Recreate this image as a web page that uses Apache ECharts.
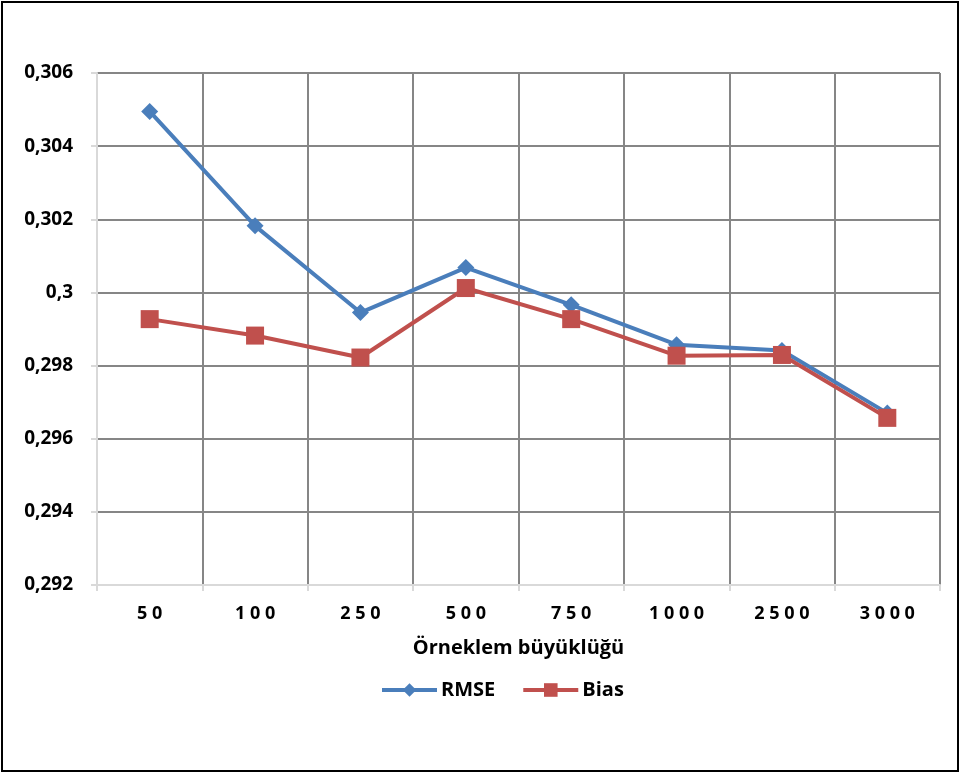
<!DOCTYPE html>
<html>
<head>
<meta charset="utf-8">
<script src="https://cdn.jsdelivr.net/npm/echarts@6/dist/echarts.min.js"></script>
<style>
  html, body { margin: 0; padding: 0; background: #fff; }
  #frame { position: absolute; left: 1px; top: 1px; width: 954px; height: 767px; border: 2px solid #000; }
  #chart { position: absolute; left: 0; top: 0; width: 960px; height: 773px; }
</style>
</head>
<body>
<div id="frame"></div>
<div id="chart"></div>
<script>
// Sample sizes on the x axis
const categories = ['50', '100', '250', '500', '750', '1000', '2500', '3000'];
// Error measures per sample size
const rmse = [0.30495, 0.30182, 0.29945, 0.30068, 0.29966, 0.29857, 0.29841, 0.29670];
const bias = [0.29927, 0.29882, 0.29822, 0.30012, 0.29927, 0.29827, 0.29829, 0.29657];
// Value axis ticks
const yTicks = [0.292, 0.294, 0.296, 0.298, 0.300, 0.302, 0.304, 0.306];
const yTickLabels = ['0,292', '0,294', '0,296', '0,298', '0,3', '0,302', '0,304', '0,306'];

const DARK = '#868686';
const LIGHT = '#d9d9d9';
const font = 'Open Sans, Liberation Sans, sans-serif';

const chart = echarts.init(document.getElementById('chart'), null, { renderer: 'canvas' });

// category labels are drawn with spread-out digits
function spaced(s) { return s.split('').join(' '); }

chart.setOption({
  animation: false,
  backgroundColor: 'transparent',
  grid: { left: 97, right: 20, top: 73, bottom: 188, containLabel: false },
  legend: {
    top: 680,
    left: 380,
    padding: 0,
    itemWidth: 55,
    itemHeight: 17,
    itemGap: 26,
    lineStyle: { width: 4 },
    textStyle: { fontFamily: font, fontWeight: 'bold', fontSize: 20, color: '#000', padding: [0, 0, 0, -1] },
    data: ['RMSE', 'Bias']
  },
  xAxis: {
    type: 'category',
    data: categories,
    boundaryGap: true,
    name: 'Örneklem büyüklüğü',
    nameLocation: 'middle',
    nameGap: 53,
    nameTextStyle: { fontFamily: font, fontWeight: 'bold', fontSize: 20, color: '#000' },
    axisLine: { show: true, lineStyle: { color: LIGHT, width: 2 } },
    axisTick: { show: true, length: 6, lineStyle: { color: LIGHT, width: 2 } },
    axisLabel: {
      margin: 20,
      fontFamily: font, fontWeight: 'bold', fontSize: 18, color: '#000',
      formatter: v => spaced(v)
    },
    splitLine: {
      show: true,
      lineStyle: { color: [LIGHT, DARK, DARK, DARK, DARK, DARK, DARK, DARK, DARK], width: 2 }
    }
  },
  yAxis: {
    type: 'value',
    min: yTicks[0],
    max: yTicks[yTicks.length - 1],
    interval: 0.002,
    axisLine: { show: true, lineStyle: { color: LIGHT, width: 2 } },
    axisTick: { show: true, length: 6, lineStyle: { color: LIGHT, width: 2 } },
    axisLabel: {
      margin: 24,
      fontFamily: font, fontWeight: 'bold', fontSize: 19, color: '#000',
      formatter: v => {
        const i = yTicks.findIndex(t => Math.abs(t - v) < 1e-9);
        return i >= 0 ? yTickLabels[i] : '';
      }
    },
    splitLine: {
      show: true,
      lineStyle: { color: [LIGHT, DARK, DARK, DARK, DARK, DARK, DARK, DARK], width: 2 }
    }
  },
  series: [
    {
      name: 'RMSE',
      type: 'line',
      data: rmse,
      symbol: 'diamond',
      symbolSize: 17,
      itemStyle: { color: '#4a7ebb' },
      lineStyle: { color: '#4a7ebb', width: 4 },
      z: 3
    },
    {
      name: 'Bias',
      type: 'line',
      data: bias,
      symbol: 'rect',
      symbolSize: 18,
      itemStyle: { color: '#c0504d' },
      lineStyle: { color: '#c0504d', width: 4 },
      z: 4
    }
  ]
});
</script>
</body>
</html>
